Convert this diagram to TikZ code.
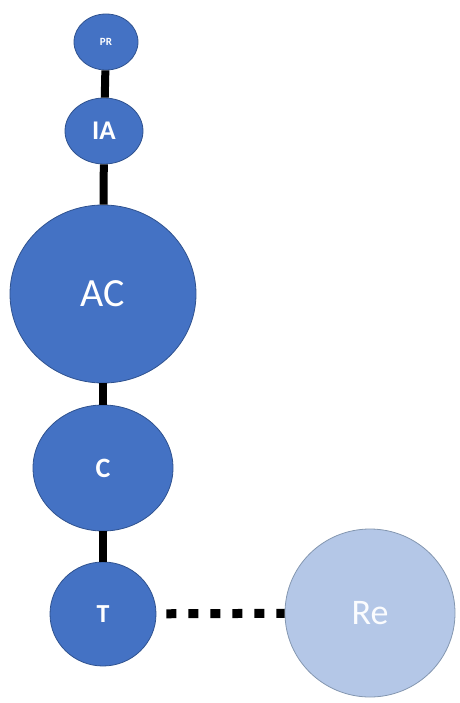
\documentclass[tikz,border=0pt]{standalone}
\usepackage{fontspec}
\setmainfont{Carlito}
\definecolor{ndblue}{RGB}{68,114,196}
\definecolor{ndedge}{RGB}{47,82,143}
\definecolor{relight}{RGB}{180,199,231}
\definecolor{reedge}{RGB}{132,151,176}
\usetikzlibrary{shapes.geometric}

\begin{document}
\begin{tikzpicture}[x=1pt, y=-1pt,
    stage/.style={ellipse, draw=ndedge, line width=0.8pt, fill=ndblue,
                  inner sep=0pt, text=white, align=center},
    link/.style={line width=8pt, black},
    dotlink/.style={line width=9pt, black, dash pattern=on 10pt off 12pt, dash phase=12pt}
  ]
    \useasboundingbox (0,0) rectangle (459,703);

    % Stage nodes
    \node[stage, minimum width=64pt, minimum height=56pt,
          font=\fontsize{11}{11}\selectfont\bfseries] (pr) at (106,42) {PR};
    \node[stage, minimum width=78pt, minimum height=66pt,
          font=\fontsize{27}{27}\selectfont\bfseries] (ia) at (104,131) {IA};
    \node[stage, minimum width=186pt, minimum height=178pt,
          font=\fontsize{40}{40}\selectfont] (ac) at (103,294) {AC};
    \node[stage, minimum width=140pt, minimum height=126pt,
          font=\fontsize{28}{28}\selectfont\bfseries] (c) at (103,468) {C};
    \node[stage, minimum width=106pt, minimum height=104pt,
          font=\fontsize{26}{26}\selectfont\bfseries] (t) at (103,614) {T};

    % Related node
    \node[stage, draw=reedge, fill=relight, text=white!95!relight,
          minimum width=170pt, minimum height=168pt,
          font=\fontsize{36}{36}\selectfont] (re) at (370,613) {Re};

    % Links
    \draw[link] (pr) -- (ia);
    \draw[link] (ia) -- (ac);
    \draw[link] (ac) -- (c);
    \draw[link] (c)  -- (t);
    \draw[dotlink] (t) -- (re);
\end{tikzpicture}
\end{document}
